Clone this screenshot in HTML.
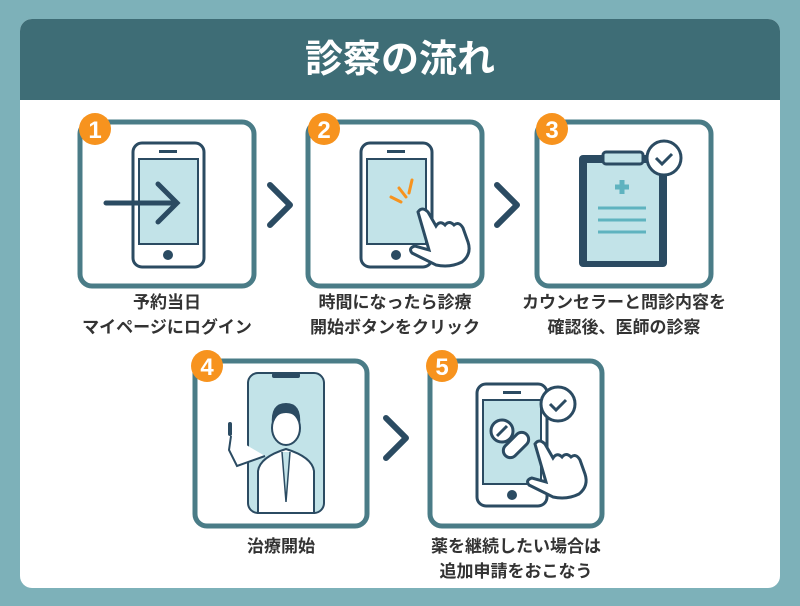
<!DOCTYPE html>
<html><head><meta charset="utf-8"><style>
body{margin:0;width:800px;height:606px;background:#7db1b9;font-family:"Liberation Sans","Noto Sans CJK JP",sans-serif;overflow:hidden}
svg{position:absolute;left:0;top:0}
.t{position:absolute;text-align:center;font-weight:bold;color:#333;font-size:17px;line-height:25px;white-space:nowrap}
</style></head><body>
<svg width="800" height="606" viewBox="0 0 800 606">
<rect x="20" y="19" width="760" height="569" rx="12" fill="#fff"/>
<path d="M20 31 a12 12 0 0 1 12-12 h736 a12 12 0 0 1 12 12 V100 H20Z" fill="#3e6d76"/>
<g fill="none" stroke="#4a7c87" stroke-width="5">
<rect x="80" y="122" width="174" height="164" rx="12"/>
<rect x="308" y="122" width="174" height="164" rx="12"/>
<rect x="537" y="122" width="174" height="164" rx="12"/>
<rect x="195" y="361" width="172" height="165" rx="12"/>
<rect x="430" y="361" width="172" height="165" rx="12"/>
</g>
<g fill="none" stroke="#2b4b62" stroke-width="6" stroke-linecap="round" stroke-linejoin="round">
<path d="M270 185 l20 20 l-20 20"/><path d="M497 185 l20 20 l-20 20"/><path d="M386 418 l20 20 l-20 20"/>
</g>
<g fill="#f7931e"><circle cx="95" cy="129" r="16"/><circle cx="324" cy="129" r="16"/><circle cx="552" cy="129" r="16"/><circle cx="207" cy="366" r="16"/><circle cx="442" cy="366" r="16"/></g>
<g fill="#fff" font-family="Liberation Sans" font-weight="bold" font-size="24" text-anchor="middle">
<text x="95" y="138">1</text><text x="324" y="138">2</text><text x="552" y="138">3</text><text x="207" y="375">4</text><text x="442" y="375">5</text></g>
<g stroke="#2b4b62" stroke-width="3" fill="#fff">
<rect x="133" y="143" width="71" height="124" rx="9"/>
<rect x="361" y="143" width="71" height="124" rx="9"/>
<rect x="477" y="384" width="70" height="122" rx="9"/>
</g>
<g fill="#c2e3e8" stroke="#2b4b62" stroke-width="2">
<rect x="139" y="159" width="59" height="85"/><rect x="367" y="159" width="59" height="85"/><rect x="483" y="400" width="58" height="84"/>
</g>
<g fill="#2b4b62"><circle cx="168" cy="255" r="5"/><circle cx="396" cy="255" r="5"/><circle cx="512" cy="495" r="5"/>
<rect x="159" y="150" width="18" height="3"/><rect x="387" y="150" width="18" height="3"/><rect x="503" y="391" width="18" height="3"/></g>
<g fill="none" stroke="#2b4b62" stroke-width="5" stroke-linecap="round"><path d="M106 203 H177 M158 184 l19 19 l-19 19"/></g>
<g stroke="#f7931e" stroke-width="3" stroke-linecap="round"><path d="M391 197 l10 5 M399 188 l7 9 M412 180 l-3 13"/></g>
<path d="M418 212 q4-6 10 0 l8 14 q4-6 9-1 q4-5 9 0 q5-4 9 3 l5 14 q4 12-6 20 q-12 6-26 3 l-24-12 q-4-5 3-7 l14 4Z" fill="#fff" stroke="#2b4b62" stroke-width="3"/>
<path d="M535 396 q4-6 10 0 l8 14 q4-6 9-1 q4-5 9 0 q5-4 9 3 l5 14 q4 12-6 20 q-12 6-26 3 l-24-12 q-4-5 3-7 l14 4Z" transform="translate(0,48)" fill="#fff" stroke="#2b4b62" stroke-width="3"/>
<!-- clipboard -->
<rect x="579" y="155" width="88" height="112" rx="4" fill="#2b4b62"/>
<rect x="586" y="162" width="74" height="100" fill="#c2e3e8" stroke="#2b4b62" stroke-width="2"/>
<rect x="603" y="152" width="40" height="12" rx="3" fill="#c2e3e8" stroke="#2b4b62" stroke-width="3"/>
<path d="M615 187 h14 M622 180 v14" stroke="#5fb3bf" stroke-width="5"/>
<path d="M598 208 h48 M598 220 h48 M598 232 h48" stroke="#5fb3bf" stroke-width="3"/>
<circle cx="664" cy="158" r="17" fill="#fff" stroke="#2b4b62" stroke-width="3"/>
<path d="M656 158 l6 6 l10-10" stroke="#2b4b62" stroke-width="3" fill="none"/>
<circle cx="558" cy="404" r="17" fill="#fff" stroke="#2b4b62" stroke-width="3"/>
<path d="M550 404 l6 6 l10-10" stroke="#2b4b62" stroke-width="3" fill="none"/>
<circle cx="502" cy="431" r="11" fill="#fff" stroke="#2b4b62" stroke-width="3"/>
<path d="M497 436 l10-10" stroke="#2b4b62" stroke-width="3"/>
<rect x="509" y="430" width="14" height="30" rx="7" transform="rotate(45 516 445)" fill="#fff" stroke="#2b4b62" stroke-width="3"/>
<!-- doctor -->
<rect x="248" y="373" width="76" height="140" rx="10" fill="#c2e3e8" stroke="#2b4b62" stroke-width="2"/>
<rect x="272" y="373" width="28" height="5" rx="2" fill="#2b4b62"/>
<path d="M258 513 v-42 q2-14 28-22 q26 8 28 22 v42Z" fill="#fff" stroke="#2b4b62" stroke-width="2"/>
<path d="M282 452 l4 50 l4-50" fill="#c2e3e8" stroke="#2b4b62" stroke-width="1.5"/>
<ellipse cx="286" cy="428" rx="14" ry="17" fill="#fff" stroke="#2b4b62" stroke-width="2"/>
<path d="M272 425 q-2-22 14-22 q16 0 14 22 q-3-12-14-12 q-11 0-14 12Z" fill="#2b4b62"/>
<path d="M265 456 l-28 10 l-8-16 l2-14" fill="#fff" stroke="#2b4b62" stroke-width="2"/>
<path d="M230 434 l0-10" stroke="#2b4b62" stroke-width="4" stroke-linecap="round"/>
</svg>
<div class="t" style="left:0;width:800px;top:36px;font-size:38px;line-height:48px;color:#fff">診察の流れ</div>
<div class="t" style="left:67px;width:200px;top:290px">予約当日<br>マイページにログイン</div>
<div class="t" style="left:295px;width:200px;top:290px">時間になったら診療<br>開始ボタンをクリック</div>
<div class="t" style="left:514px;width:220px;top:290px">カウンセラーと問診内容を<br>確認後、医師の診察</div>
<div class="t" style="left:181px;width:200px;top:534px">治療開始</div>
<div class="t" style="left:416px;width:200px;top:534px">薬を継続したい場合は<br>追加申請をおこなう</div>
</body></html>
